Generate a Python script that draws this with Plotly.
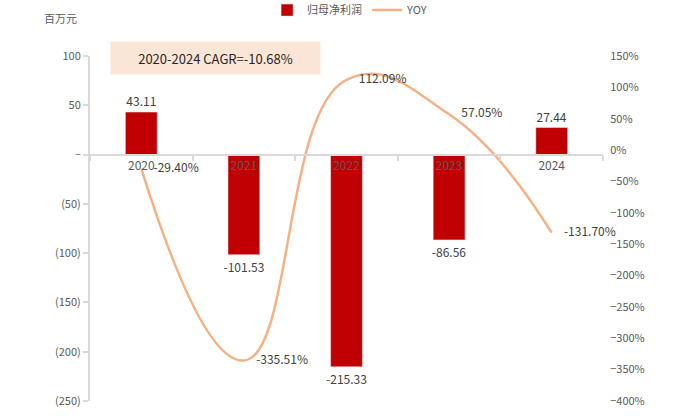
import plotly.graph_objects as go

# Net profit attributable to parent (million yuan) and year-over-year change (%)
years = ["2020", "2021", "2022", "2023", "2024"]
net_profit = [43.11, -101.53, -215.33, -86.56, 27.44]
yoy = [-29.40, -335.51, 112.09, 57.05, -131.70]

left_ticks = [100, 50, 0, -50, -100, -150, -200, -250]
left_tick_text = ["100", "50", "–", "(50)", "(100)", "(150)", "(200)", "(250)"]

BAR_RED = "#C00000"
LINE_ORANGE = "#F4B183"
AXIS_GRAY = "#D9D9D9"
TEXT_GRAY = "#595959"
FONT = "Noto Sans CJK SC, Noto Sans, sans-serif"

fig = go.Figure()

fig.add_trace(go.Bar(
    x=years, y=net_profit, name="归母净利润",
    marker=dict(color=BAR_RED),
    width=0.31,
    texttemplate="%{y:.2f}", textposition="outside",
    constraintext="none",
    textfont=dict(size=12, color="#404040", family=FONT),
    cliponaxis=False,
))

# transparent markers keep the value labels a little clear of the line
fig.add_trace(go.Scatter(
    x=years, y=yoy, name="YOY", yaxis="y2",
    mode="lines+markers+text",
    line=dict(color=LINE_ORANGE, width=2.5, shape="spline", smoothing=1.3),
    marker=dict(size=18, color="rgba(0,0,0,0)", line=dict(width=0)),
    texttemplate="%{y:.2f}%", textposition="middle right",
    textfont=dict(size=12, color="#404040", family=FONT),
    cliponaxis=False,
))

ymin, ymax = -250, 100
zero_pos = (0 - ymin) / (ymax - ymin)

fig.update_layout(
    width=700, height=416,
    margin=dict(l=90, r=97, t=56, b=15, autoexpand=False),
    plot_bgcolor="white", paper_bgcolor="white",
    font=dict(family=FONT, size=11, color=TEXT_GRAY),
    showlegend=True,
    legend=dict(
        orientation="h", xref="paper", yref="paper",
        x=0.507, xanchor="center", y=1.133, yanchor="middle",
        font=dict(size=11, color=TEXT_GRAY), itemwidth=30,
        traceorder="normal",
    ),
    xaxis=dict(
        type="category", anchor="free", position=zero_pos,
        showline=True, linecolor=AXIS_GRAY, linewidth=2,
        ticks="outside", tickson="boundaries", ticklen=5,
        tickcolor=AXIS_GRAY, tickwidth=2,
        tickfont=dict(size=12, color=TEXT_GRAY),
        showgrid=False, zeroline=False,
    ),
    yaxis=dict(
        range=[ymin, ymax], tickvals=left_ticks, ticktext=left_tick_text,
        showline=True, linecolor=AXIS_GRAY, linewidth=2,
        ticks="outside", ticklen=5, tickcolor=AXIS_GRAY, tickwidth=2,
        showgrid=False, zeroline=False,
        tickfont=dict(size=11, color=TEXT_GRAY),
    ),
    yaxis2=dict(
        range=[-400, 150], dtick=50, ticksuffix="%",
        overlaying="y", side="right",
        showline=False, showgrid=False, zeroline=False,
        ticks="outside", ticklen=4, tickcolor="rgba(0,0,0,0)",
        tickfont=dict(size=11, color=TEXT_GRAY),
    ),
    annotations=[
        dict(
            text="百万元", xref="paper", yref="paper",
            x=-0.058, y=1.11, xanchor="center", yanchor="middle",
            showarrow=False,
            font=dict(size=11, color=TEXT_GRAY),
        ),
        dict(
            text="2020-2024 CAGR=-10.68%", xref="paper", yref="paper",
            x=0.244, y=0.994, xanchor="center", yanchor="middle",
            showarrow=False,
            width=201, height=24, borderpad=4,
            bgcolor="#FBE5D6",
            font=dict(size=13, color="#262626"),
        ),
    ],
)

fig.write_html("out.html")
